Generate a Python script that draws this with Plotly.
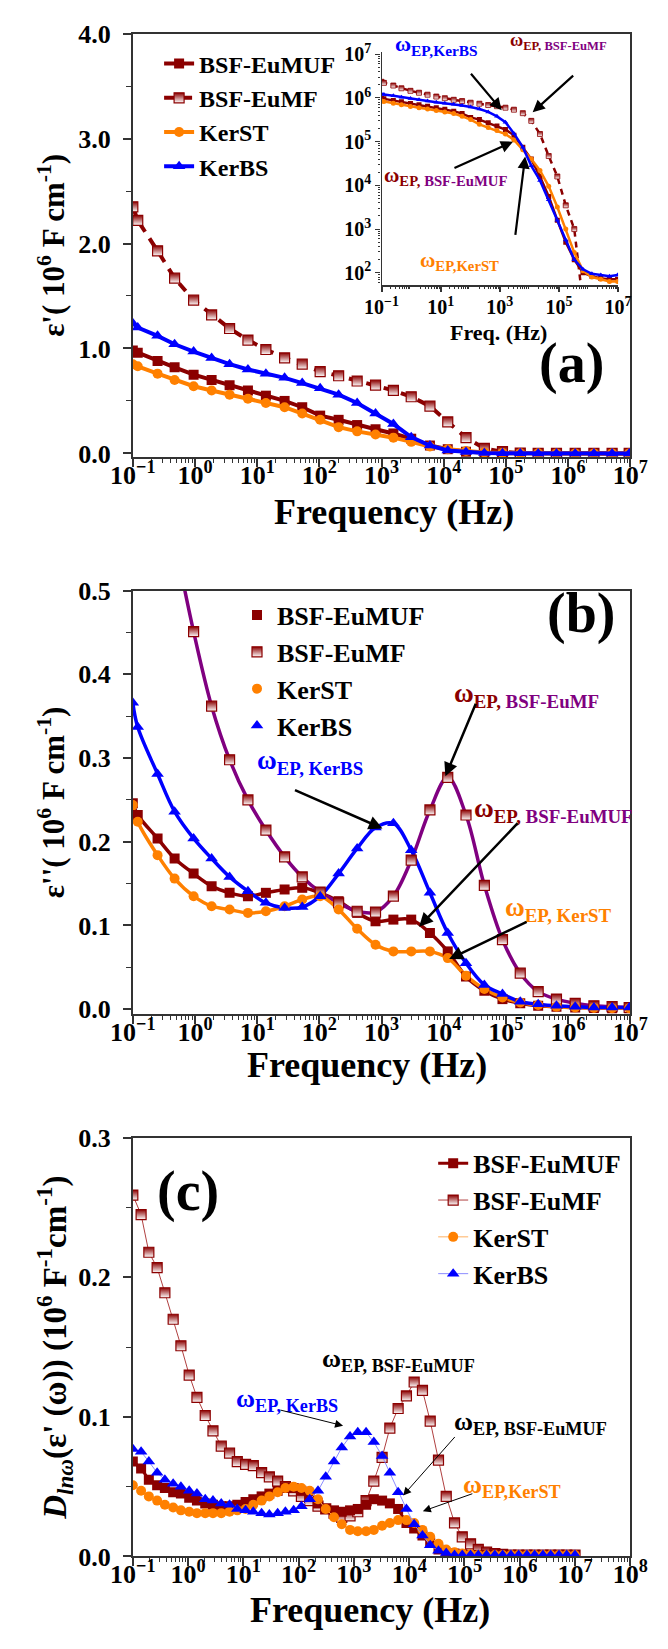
import numpy as np
import plotly.graph_objects as go

W, H = 668, 1649
FONT = "Liberation Serif, Times New Roman, serif"

DARK_RED = "#8B0000"
ORANGE = "#FF8000"
BLUE = "#0000FF"
PURPLE = "#800080"
AXIS = "#333333"

# ---------------- (a) real permittivity, absolute values ----------------
FREQ_A = [0.1, 0.12, 0.25, 0.47, 0.95, 1.85, 3.6, 7.1, 13.8, 27.6, 53, 103, 204, 405,
          800, 1550, 3000, 6000, 11600, 22800, 45000, 88000, 170000, 330000, 650000,
          1.3e6, 2.6e6, 5.1e6, 9.6e6]

EPS1_EUMUF = [9.8e5, 9.6e5, 8.8e5, 8.2e5, 7.5e5, 7.0e5, 6.5e5, 6.0e5, 5.5e5, 5.0e5, 4.4e5,
              3.6e5, 3.2e5, 2.7e5, 2.3e5, 1.9e5, 1.4e5, 7.5e4, 4.0e4, 1.6e4, 5.6e3, 1.6e3,
              500, 200, 100, 83, 74, 71, 71]
EPS1_EUMF = [2.35e6, 2.22e6, 1.93e6, 1.67e6, 1.46e6, 1.32e6, 1.19e6, 1.08e6, 9.9e5, 9.1e5,
             8.5e5, 7.8e5, 7.4e5, 6.9e5, 6.5e5, 6.0e5, 5.4e5, 4.5e5, 3.0e5, 1.5e5, 4.7e4,
             1.6e4, 3.5e3, 1.0e3, 20, 10, 8, 6, 5]
EPS1_KERST = [8.5e5, 8.3e5, 7.6e5, 7.0e5, 6.4e5, 6.0e5, 5.6e5, 5.2e5, 4.8e5, 4.4e5, 3.8e5,
              3.2e5, 2.5e5, 2.1e5, 1.8e5, 1.5e5, 1.1e5, 6.5e4, 4.0e4, 2.2e4, 9.5e3, 3.2e3,
              1.0e3, 290, 112, 80, 71, 63, 63]
EPS1_KERBS = [1.24e6, 1.20e6, 1.12e6, 1.04e6, 9.7e5, 9.1e5, 8.5e5, 8.0e5, 7.6e5, 7.2e5,
              6.7e5, 6.2e5, 5.6e5, 4.8e5, 3.8e5, 2.8e5, 1.55e5, 7.5e4, 2.8e4, 1.3e4, 4.7e3,
              1.6e3, 560, 200, 120, 95, 89, 83, 89]

# ---------------- (b) imaginary permittivity (10^6 F cm^-1) ----------------
FREQ_B = FREQ_A
EPS2_EUMUF = [0.246, 0.232, 0.204, 0.180, 0.162, 0.147, 0.139, 0.135, 0.139, 0.143, 0.145,
              0.139, 0.129, 0.115, 0.105, 0.107, 0.107, 0.091, 0.069, 0.039, 0.022, 0.012,
              0.007, 0.004, 0.003, 0.002, 0.0015, 0.001, 0.001]
EPS2_EUMF = [0.84, 0.80, 0.66, 0.56, 0.451, 0.362, 0.298, 0.250, 0.214, 0.182, 0.158,
             0.140, 0.127, 0.117, 0.116, 0.135, 0.178, 0.238, 0.277, 0.232, 0.148, 0.083,
             0.043, 0.021, 0.012, 0.007, 0.004, 0.003, 0.002]
EPS2_KERST = [0.244, 0.224, 0.184, 0.156, 0.135, 0.123, 0.119, 0.115, 0.117, 0.123, 0.131,
              0.135, 0.119, 0.096, 0.077, 0.069, 0.069, 0.069, 0.061, 0.040, 0.024, 0.014,
              0.008, 0.005, 0.003, 0.002, 0.0015, 0.001, 0.001]
EPS2_KERBS = [0.366, 0.337, 0.281, 0.236, 0.204, 0.180, 0.158, 0.141, 0.127, 0.121, 0.122,
              0.135, 0.162, 0.192, 0.217, 0.222, 0.190, 0.139, 0.091, 0.055, 0.029, 0.018,
              0.009, 0.006, 0.004, 0.003, 0.002, 0.002, 0.002]

# ---------------- (c) logarithmic derivative of eps' ----------------
LOG10_FREQ_C = [-1.0, -0.85, -0.71, -0.56, -0.42, -0.27, -0.13, 0.02, 0.16, 0.31, 0.45, 0.6,
                0.75, 0.89, 1.04, 1.18, 1.33, 1.47, 1.62, 1.76, 1.91, 2.05, 2.2, 2.35, 2.49,
                2.64, 2.78, 2.93, 3.07, 3.22, 3.36, 3.51, 3.65, 3.8, 3.95, 4.09, 4.24, 4.38,
                4.53, 4.67, 4.82, 4.96, 5.11, 5.25, 5.4, 5.55, 5.69, 5.84, 5.98, 6.13, 6.27,
                6.42, 6.56, 6.71, 6.85, 7.0]
DLN_EUMF = [0.259, 0.245, 0.218, 0.207, 0.189, 0.170, 0.151, 0.130, 0.114, 0.101, 0.090,
            0.079, 0.074, 0.068, 0.066, 0.065, 0.060, 0.057, 0.054, 0.050, 0.047, 0.043,
            0.040, 0.036, 0.034, 0.031, 0.028, 0.029, 0.032, 0.040, 0.054, 0.071, 0.092,
            0.106, 0.115, 0.125, 0.119, 0.097, 0.069, 0.043, 0.024, 0.014, 0.009, 0.005,
            0.003, 0.002, 0.0015, 0.001, 0.001, 0.001, 0.001, 0.001, 0.001, 0.001, 0.001, 0.001]
DLN_EUMUF = [0.068, 0.063, 0.055, 0.051, 0.049, 0.046, 0.045, 0.042, 0.040, 0.038, 0.037,
             0.036, 0.036, 0.037, 0.039, 0.041, 0.043, 0.045, 0.047, 0.049, 0.049, 0.047,
             0.043, 0.038, 0.034, 0.033, 0.032, 0.033, 0.034, 0.037, 0.041, 0.040, 0.038,
             0.034, 0.024, 0.020, 0.015, 0.010, 0.005, 0.0025, 0.002, 0.0015, 0.001, 0.001,
             0.001, 0.001, 0.001, 0.001, 0.001, 0.001, 0.001, 0.001, 0.001, 0.001, 0.001, 0.001]
DLN_KERST = [0.051, 0.047, 0.043, 0.040, 0.037, 0.035, 0.033, 0.032, 0.031, 0.031, 0.031,
             0.031, 0.032, 0.033, 0.034, 0.037, 0.040, 0.043, 0.046, 0.049, 0.050, 0.049,
             0.047, 0.041, 0.034, 0.028, 0.023, 0.019, 0.018, 0.018, 0.019, 0.022, 0.024,
             0.026, 0.026, 0.024, 0.019, 0.014, 0.009, 0.005, 0.003, 0.002, 0.0015, 0.001,
             0.001, 0.001, 0.001, 0.001, 0.001, 0.001, 0.001, 0.001, 0.001, 0.001, 0.001, 0.001]
DLN_KERBS = [0.077, 0.075, 0.068, 0.060, 0.055, 0.052, 0.050, 0.047, 0.045, 0.041, 0.040,
             0.038, 0.037, 0.034, 0.033, 0.032, 0.031, 0.030, 0.031, 0.032, 0.033, 0.036,
             0.041, 0.047, 0.057, 0.068, 0.078, 0.086, 0.089, 0.089, 0.082, 0.072, 0.060,
             0.046, 0.034, 0.023, 0.015, 0.008, 0.004, 0.0025, 0.001, 0.001, 0.001, 0.001,
             0.001, 0.001, 0.001, 0.001, 0.001, 0.001, 0.001, 0.001, 0.001, 0.001, 0.001, 0.001]

NAMES = ["BSF-EuMUF", "BSF-EuMF", "KerST", "KerBS"]


def fx(px):
    return px / W


def fy(py):
    return 1 - py / H


def half_square(size, line_w=1.2):
    # square marker: dark red top fading into white bottom
    return dict(symbol="square", size=size, color=DARK_RED,
                gradient=dict(type="vertical", color="white"),
                line=dict(color=DARK_RED, width=line_w))


fig = go.Figure()

# ---------- panel (a): main linear plot ----------
eps1 = [EPS1_EUMUF, EPS1_EUMF, EPS1_KERST, EPS1_KERBS]
styles_a = [
    dict(line=dict(color=DARK_RED, width=4),
         marker=dict(symbol="square", size=10, color=DARK_RED)),
    dict(line=dict(color=DARK_RED, width=4, dash="10px,8px"), marker=half_square(10)),
    dict(line=dict(color=ORANGE, width=4),
         marker=dict(symbol="circle", size=10, color=ORANGE)),
    dict(line=dict(color=BLUE, width=4),
         marker=dict(symbol="triangle-up", size=11, color=BLUE)),
]
for name, vals, st in zip(NAMES, eps1, styles_a):
    fig.add_trace(go.Scatter(x=FREQ_A, y=np.array(vals) / 1e6, mode="lines+markers",
                             name=name, legend="legend", xaxis="x", yaxis="y", **st))

# ---------- panel (a): log-log inset ----------
styles_in = [
    dict(line=dict(color=DARK_RED, width=2.5),
         marker=dict(symbol="square", size=5, color=DARK_RED)),
    dict(line=dict(color=DARK_RED, width=2.5, dash="6px,5px"), marker=half_square(5, 0.8)),
    dict(line=dict(color=ORANGE, width=2.5),
         marker=dict(symbol="circle", size=5, color=ORANGE)),
    dict(line=dict(color=BLUE, width=2.5),
         marker=dict(symbol="triangle-up", size=5, color=BLUE)),
]
for name, vals, st in zip(NAMES, eps1, styles_in):
    fig.add_trace(go.Scatter(x=FREQ_A, y=vals, mode="lines+markers", name=name,
                             showlegend=False, xaxis="x2", yaxis="y2", **st))

# ---------- panel (b): data points and fitted curves ----------
eps2 = [EPS2_EUMUF, EPS2_EUMF, EPS2_KERST, EPS2_KERBS]
fit_colors = [DARK_RED, PURPLE, ORANGE, BLUE]
for vals, col in zip(eps2, fit_colors):
    fig.add_trace(go.Scatter(x=FREQ_B, y=vals, mode="lines", showlegend=False,
                             line=dict(color=col, width=3.5, shape="spline", smoothing=1.0),
                             xaxis="x3", yaxis="y3", hoverinfo="skip"))
markers_b = [
    dict(symbol="square", size=10, color=DARK_RED),
    half_square(10),
    dict(symbol="circle", size=10, color=ORANGE),
    dict(symbol="triangle-up", size=11, color=BLUE),
]
for name, vals, mk in zip(NAMES, eps2, markers_b):
    fig.add_trace(go.Scatter(x=FREQ_B, y=vals, mode="markers", name=name, marker=mk,
                             legend="legend2", xaxis="x3", yaxis="y3"))

# ---------- panel (c): derivative ----------
freq_c = 10 ** np.array(LOG10_FREQ_C)
dln = [DLN_EUMF, DLN_EUMUF, DLN_KERST, DLN_KERBS]
names_c = ["BSF-EuMF", "BSF-EuMUF", "KerST", "KerBS"]
styles_c = [
    dict(line=dict(color="#B04040", width=1), marker=half_square(10)),
    dict(line=dict(color=DARK_RED, width=3),
         marker=dict(symbol="square", size=10, color=DARK_RED)),
    dict(line=dict(color="#FFB060", width=1),
         marker=dict(symbol="circle", size=10, color=ORANGE)),
    dict(line=dict(color="#8C8CFF", width=1),
         marker=dict(symbol="triangle-up", size=11, color=BLUE)),
]
order_c = [1, 0, 2, 3]  # legend order EuMUF, EuMF, KerST, KerBS
for i, (name, vals, st) in enumerate(zip(names_c, dln, styles_c)):
    fig.add_trace(go.Scatter(x=freq_c, y=vals, mode="lines+markers", name=name,
                             legend="legend3", legendrank=order_c[i],
                             xaxis="x4", yaxis="y4", **st))

# ---------- axes ----------
def decades(lo, hi):
    vals = [10.0 ** e for e in range(lo, hi + 1)]
    text = ["10<sup>%s</sup>" % (("\u2212%d" % -e) if e < 0 else str(e)) for e in range(lo, hi + 1)]
    return vals, text


def minor_vals(lo, hi):
    return [m * 10.0 ** e for e in range(lo, hi) for m in range(2, 10)]


def tick_font(size):
    return dict(family=FONT, size=size, color="black", weight="bold")


def title_font(size):
    return dict(family=FONT, size=size, color="black", weight="bold")


def log_x(domain, lo, hi, anchor, size, step=1, mirror=True, ticklen=8, standoff=-14):
    vals, text = decades(lo, hi)
    return dict(type="log", domain=domain, range=[lo, hi], anchor=anchor,
                tickmode="array", tickvals=vals[::step], ticktext=text[::step],
                ticks="outside", ticklen=ticklen, tickwidth=1.5, tickcolor=AXIS,
                ticklabelstandoff=standoff,
                minor=dict(tickmode="array", tickvals=minor_vals(lo, hi), ticks="outside",
                           ticklen=ticklen / 2, tickwidth=1.2, tickcolor=AXIS),
                showline=True, linecolor=AXIS, linewidth=1.6, mirror=mirror,
                showgrid=False, zeroline=False, tickfont=tick_font(size))


def lin_y(domain, rng, dtick, anchor, title, tsize, standoff):
    return dict(domain=domain, range=rng, anchor=anchor, tick0=0, dtick=dtick,
                tickformat=".1f", ticks="outside", ticklen=8, tickwidth=1.5, tickcolor=AXIS,
                ticklabelstandoff=7,
                minor=dict(dtick=dtick / 2, tick0=0, ticks="outside", ticklen=5,
                           tickwidth=1.2, tickcolor=AXIS),
                showline=True, linecolor=AXIS, linewidth=1.6, mirror=True,
                showgrid=False, zeroline=False, tickfont=tick_font(26),
                title=dict(text=title, font=title_font(tsize), standoff=standoff))


XDOM = [fx(117), fx(647)]
ya_dom = [fy(451), fy(20)]
yb_dom = [fy(1018), fy(587)]
yc_dom = [fy(1570), fy(1144)]

in_y_vals, in_y_text = decades(2, 7)
layout_axes = dict(
    xaxis=log_x(XDOM, -1, 7, "y", 26),
    yaxis=lin_y(ya_dom, [-0.035, 4.0], 1.0, "x",
                "\u03b5'( 10<sup>6</sup> F cm<sup>-1</sup>)", 31, 4),
    xaxis2=log_x([fx(382), fx(634)], -1, 7, "y2", 20, step=2, mirror=False, ticklen=5,
                 standoff=-2),
    yaxis2=dict(type="log", domain=[fy(276), fy(38.8)], range=[1.717, 7.05], anchor="x2",
                tickmode="array", tickvals=in_y_vals, ticktext=in_y_text,
                ticks="outside", ticklen=5, tickwidth=1.2, tickcolor=AXIS,
                minor=dict(tickmode="array", tickvals=minor_vals(1, 7), ticks="outside",
                           ticklen=2.5, tickwidth=1, tickcolor=AXIS),
                showline=True, linecolor=AXIS, linewidth=1.4, showgrid=False,
                zeroline=False, tickfont=tick_font(20)),
    xaxis3=log_x(XDOM, -1, 7, "y3", 26),
    yaxis3=lin_y(yb_dom, [-0.0059, 0.5], 0.1, "x3",
                 "\u03b5''( 10<sup>6</sup> F cm<sup>-1</sup>)", 31, 4),
    xaxis4=log_x(XDOM, -1, 8, "y4", 26),
    yaxis4=lin_y(yc_dom, [0, 0.3], 0.1, "x4",
                 "<i>D</i><sub><i>ln\u03c9</i></sub>(\u03b5' (\u03c9)) (10<sup>6</sup> "
                 "F<sup>-1</sup>cm<sup>-1</sup>)", 33, 2),
)


def legend_box(x, y, size):
    return dict(x=fx(x), y=fy(y), xanchor="left", yanchor="top", bgcolor="rgba(0,0,0,0)",
                font=dict(family=FONT, size=size, color="black", weight="bold"),
                tracegroupgap=0, itemclick=False)


# ---------- text and arrows ----------
def label(text, x, y, size, color="black"):
    return dict(text=text, x=fx(x), y=fy(y), xref="paper", yref="paper", showarrow=False,
                xanchor="center", yanchor="middle",
                font=dict(family=FONT, size=size, color=color, weight="bold"))


def arrow(x0, y0, x1, y1, width=2.2, size=1.1):
    return dict(text="", x=fx(x1), y=fy(y1), xref="paper", yref="paper",
                ax=x0 - x1, ay=y0 - y1, axref="pixel", ayref="pixel", showarrow=True,
                arrowhead=2, arrowsize=size, arrowwidth=width, arrowcolor="black")


def omega(sub, purple_part=None):
    if purple_part:
        return ("\u03c9<sub>%s<span style='color:%s'>%s</span></sub>"
                % (sub, PURPLE, purple_part))
    return "\u03c9<sub>%s</sub>" % sub


freq_title = "Frequency (Hz)"
annotations = [
    # x axis titles
    label(freq_title, 395, 507, 36),
    label(freq_title, 366, 1070, 36),
    label(freq_title, 370, 1625, 36),
    label("Freq. (Hz)", 507, 324, 22),
    # panel tags
    label("(a)", 584, 356, 56),
    label("(b)", 594, 610, 56),
    label("(c)", 176, 1199, 56),
    # inset markers of electrode polarization
    label(omega("EP,KerBS"), 441, 32, 22, BLUE),
    label(omega("EP, ", purple_part="BSF-EuMF"), 571, 28, 18, DARK_RED),
    label(omega("EP, ", purple_part="BSF-EuMUF"), 450, 165, 21, DARK_RED),
    label(omega("EP,KerST"), 465, 251, 21, ORANGE),
    arrow(478, 60, 510, 98),
    arrow(585, 62, 543, 100),
    arrow(462, 157, 522, 130),
    arrow(525, 225, 535, 145),
    # panel (b)
    label(omega("EP, KerBS"), 306, 761, 27, BLUE),
    label(omega("EP, ", purple_part="BSF-EuMF"), 536, 693, 27, DARK_RED),
    label(omega("EP, ", purple_part="BSF-EuMUF"), 565, 810, 27, DARK_RED),
    label(omega("EP, KerST"), 571, 911, 27, ORANGE),
    arrow(294, 790, 383, 829, 2.5),
    arrow(481, 702, 450, 776, 2.5),
    arrow(522, 824, 422, 929, 2.5),
    arrow(533, 924, 454, 962, 2.5),
    # panel (c)
    label(omega("EP, BSF-EuMUF"), 400, 1370, 26),
    label(omega("EP, KerBS"), 281, 1411, 26, BLUE),
    label(omega("EP, BSF-EuMUF"), 541, 1434, 26),
    label(omega("EP,KerST"), 521, 1498, 26, ORANGE),
    arrow(277, 1421, 341, 1437, 1, 1.6),
    arrow(458, 1448, 405, 1508, 1, 1.6),
    arrow(477, 1506, 426, 1524, 1, 1.6),
]

fig.update_layout(
    width=W, height=H, margin=dict(l=0, r=0, t=0, b=0),
    paper_bgcolor="white", plot_bgcolor="rgba(0,0,0,0)",
    font=dict(family=FONT, color="black", weight="bold"),
    legend=legend_box(145, 28, 24),
    legend2=legend_box(228, 588, 26),
    legend3=legend_box(437, 1146, 26),
    annotations=annotations,
    hovermode=False,
    **layout_axes,
)

fig.write_html("out.html")
